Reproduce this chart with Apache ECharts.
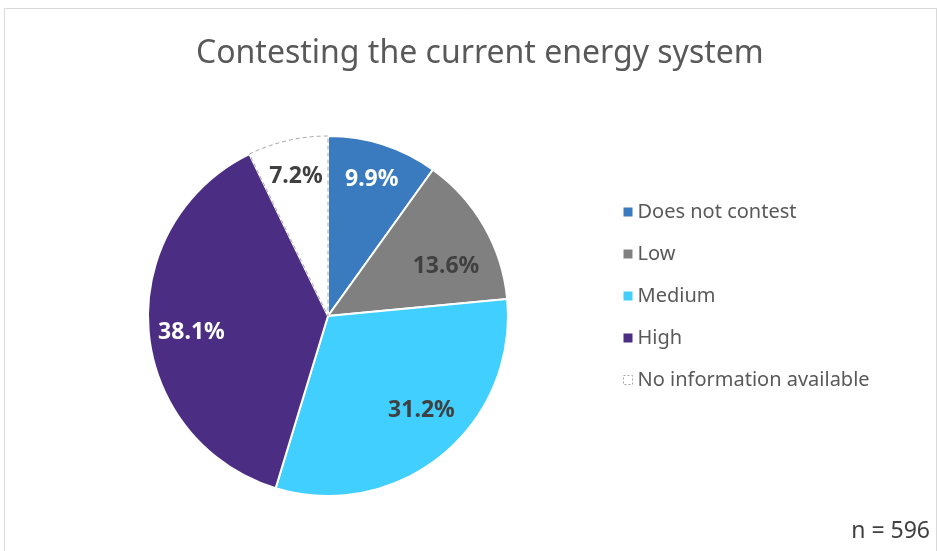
<!DOCTYPE html>
<html>
<head>
<meta charset="utf-8">
<script src="https://cdn.jsdelivr.net/npm/echarts@6/dist/echarts.min.js"></script>
<style>
  html, body { margin: 0; padding: 0; background: #fff; }
  #main { width: 939px; height: 551px; }
</style>
</head>
<body>
<div id="main"></div>
<script>
var categories = ['Does not contest', 'Low', 'Medium', 'High', 'No information available'];
var shares = [9.9, 13.6, 31.2, 38.1, 7.2];
var colors = ['#3a7abf', '#808080', '#40cfff', '#4b2e83', '#ffffff'];
var labelColors = ['#ffffff', '#404040', '#404040', '#ffffff', '#404040'];

// small nudges so labels sit where the original "best fit" put them
var labelNudge = { 'Low': [-6, 22], 'Medium': [3, -16], 'High': [6, 5] };

var chart = echarts.init(document.getElementById('main'));

var pieData = categories.map(function (name, i) {
    var item = { name: name, value: shares[i], itemStyle: { color: colors[i] } };
    if (i === 4) {
        item.itemStyle.borderColor = '#a6a6a6';
        item.itemStyle.borderWidth = 1;
        item.itemStyle.borderType = [4, 3];
    }
    return item;
});

var labelData = categories.map(function (name, i) {
    return {
        name: name,
        value: shares[i],
        itemStyle: { color: 'rgba(0,0,0,0)' },
        label: { color: labelColors[i], offset: labelNudge[name] || [0, 0] }
    };
});

var legendData = categories.map(function (name, i) {
    var st = { color: colors[i], borderWidth: 0 };
    if (i === 4) {
        st = { color: '#ffffff', borderColor: '#a6a6a6', borderWidth: 1, borderType: [2, 2] };
    }
    return { name: name, icon: 'rect', itemStyle: st };
});

chart.setOption({
    animation: false,
    graphic: [{
        type: 'rect',
        shape: { x: 4.5, y: 8.5, width: 932, height: 560 },
        style: { fill: 'none', stroke: '#d9d9d9', lineWidth: 1 },
        silent: true
    }, {
        type: 'text',
        right: 9,
        top: 520,
        style: { text: 'n = 596', font: '23px "Noto Sans"', fill: '#404040' }
    }],
    title: {
        text: 'Contesting the current energy system',
        left: 191,
        top: 33,
        textStyle: { fontFamily: 'Noto Sans', fontSize: 32, fontWeight: 'normal', color: '#595959' }
    },
    legend: {
        orient: 'vertical',
        left: 618,
        top: 197,
        itemWidth: 9,
        itemHeight: 9,
        itemGap: 22,
        textStyle: { fontFamily: 'Noto Sans', fontSize: 20, color: '#595959' },
        data: legendData
    },
    series: [{
        type: 'pie',
        center: [328, 316],
        radius: [0, 180],
        startAngle: 90,
        clockwise: true,
        silent: true,
        label: { show: false },
        labelLine: { show: false },
        itemStyle: { borderColor: '#ffffff', borderWidth: 2 },
        data: pieData
    }, {
        type: 'pie',
        center: [328, 316],
        radius: [100, 180],
        startAngle: 90,
        clockwise: true,
        silent: true,
        label: {
            show: true,
            position: 'inside',
            formatter: function (p) { return p.value.toFixed(1) + '%'; },
            fontFamily: 'Noto Sans',
            fontSize: 23,
            fontWeight: 'bold'
        },
        labelLine: { show: false },
        data: labelData
    }]
});
</script>
</body>
</html>
